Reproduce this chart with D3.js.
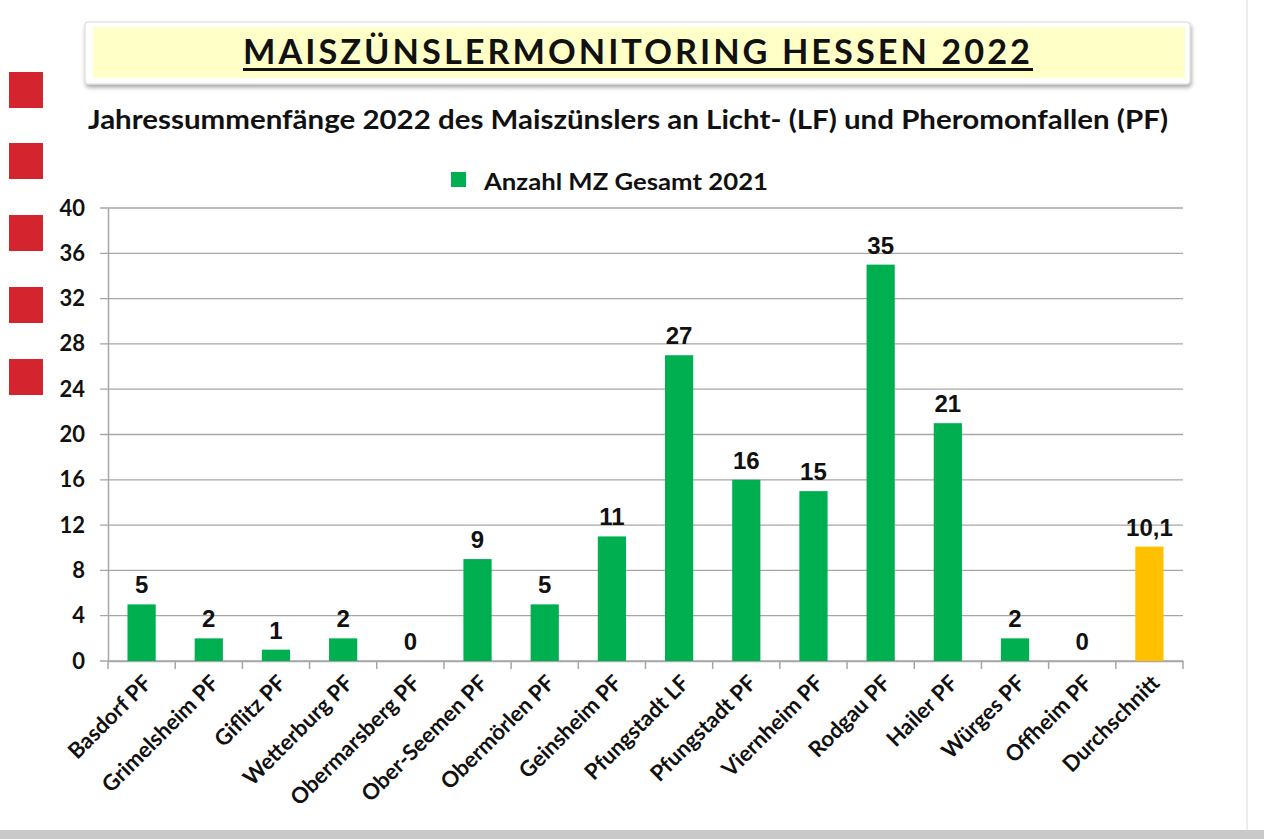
<!DOCTYPE html>
<html>
<head>
<meta charset="utf-8">
<script src="https://cdn.jsdelivr.net/npm/d3@7"></script>
<style>
  body { margin: 0; background: #fff; }
  svg { display: block; }
</style>
</head>
<body>
<svg id="chart" width="1264" height="839"></svg>
<script>
// DATA
var categories = ["Basdorf PF", "Grimelsheim PF", "Giflitz PF", "Wetterburg PF", "Obermarsberg PF",
  "Ober-Seemen PF", "Obermörlen PF", "Geinsheim PF", "Pfungstadt LF", "Pfungstadt PF",
  "Viernheim PF", "Rodgau PF", "Hailer PF", "Würges PF", "Offheim PF", "Durchschnitt"];
var counts = [5, 2, 1, 2, 0, 9, 5, 11, 27, 16, 15, 35, 21, 2, 0, 10.1];
var yTicks = [0, 4, 8, 12, 16, 20, 24, 28, 32, 36, 40];
var titleText = "MAISZÜNSLERMONITORING HESSEN 2022";
var subtitleText = "Jahressummenfänge 2022 des Maiszünslers an Licht- (LF) und Pheromonfallen (PF)";
var legendText = "Anzahl MZ Gesamt 2021";

var GREEN = "#00b050", GOLD = "#ffc000";
var labelFont = "Lato, 'Open Sans', sans-serif";
var numFont = "'Liberation Sans', Arial, sans-serif";

var svg = d3.select("#chart");

// page frame: right edge line and bottom band
svg.append("rect").attr("x", 1246).attr("y", 0).attr("width", 2).attr("height", 830).attr("fill", "#ececec");
svg.append("rect").attr("x", 0).attr("y", 830).attr("width", 1264).attr("height", 9).attr("fill", "#c9c9c9");

// red squares on the left
svg.append("g").selectAll("rect").data([72, 143, 215, 287, 359]).enter().append("rect")
  .attr("x", 9).attr("y", function(d){ return d; })
  .attr("width", 34).attr("height", 36).attr("fill", "#d4252f");

// TITLE BOX
var defs = svg.append("defs");
var f = defs.append("filter").attr("id", "shadow").attr("x", "-5%").attr("y", "-20%").attr("width", "110%").attr("height", "150%");
f.append("feDropShadow").attr("dx", 1).attr("dy", 3).attr("stdDeviation", 2).attr("flood-color", "#000").attr("flood-opacity", 0.35);

svg.append("rect").attr("x", 85).attr("y", 22).attr("width", 1105).attr("height", 62)
  .attr("rx", 3).attr("fill", "#fff").attr("stroke", "#d8d8d8").attr("filter", "url(#shadow)");
svg.append("rect").attr("x", 93).attr("y", 27).attr("width", 1092).attr("height", 51).attr("fill", "#ffffc8");

svg.append("text").attr("x", 243).attr("y", 64)
  .attr("textLength", 790).attr("lengthAdjust", "spacingAndGlyphs")
  .style("font-family", labelFont).style("font-weight", "bold").style("font-size", "34px")
  .style("letter-spacing", "3px").attr("fill", "#111").text(titleText);
svg.append("rect").attr("x", 243).attr("y", 68).attr("width", 790).attr("height", 3).attr("fill", "#111");

svg.append("text").attr("x", 88).attr("y", 129)
  .attr("textLength", 1080).attr("lengthAdjust", "spacingAndGlyphs")
  .style("font-family", labelFont).style("font-weight", "bold").style("font-size", "27px")
  .attr("fill", "#111").text(subtitleText);

// LEGEND
svg.append("rect").attr("x", 451).attr("y", 172).attr("width", 15).attr("height", 15).attr("fill", GREEN);
svg.append("text").attr("x", 484).attr("y", 190)
  .attr("textLength", 284).attr("lengthAdjust", "spacingAndGlyphs")
  .style("font-family", labelFont).style("font-weight", "bold").style("font-size", "22px")
  .attr("fill", "#111").text(legendText);

// SCALES
var plotLeft = 108, plotRight = 1183, plotTop = 208, plotBottom = 661;
var x = d3.scaleBand().domain(categories).range([plotLeft, plotRight]).paddingInner(0.58).paddingOuter(0.29);
var xb = d3.scaleBand().domain(categories).range([plotLeft, plotRight]);
var y = d3.scaleLinear().domain([0, 40]).range([plotBottom, plotTop]);

// gridlines
svg.append("g").selectAll("line").data(yTicks).enter().append("line")
  .attr("x1", plotLeft - 8).attr("x2", plotRight)
  .attr("y1", function(d){ return y(d); }).attr("y2", function(d){ return y(d); })
  .attr("stroke", "#a6a6a6").attr("stroke-width", 1.3);

// y axis
var yAxis = svg.append("g").attr("transform", "translate(" + plotLeft + ",0)")
  .call(d3.axisLeft(y).tickValues(yTicks).tickSize(0).tickPadding(23));
yAxis.select(".domain").attr("stroke", "#a6a6a6").attr("stroke-width", 1.5);
yAxis.selectAll("text").style("font-family", labelFont).style("font-weight", "bold")
  .style("font-size", "22px").attr("fill", "#111");

// x axis
var xAxis = svg.append("g").attr("transform", "translate(0," + plotBottom + ")")
  .call(d3.axisBottom(xb).tickSize(0).tickFormat(""));
xAxis.select(".domain").attr("stroke", "#a6a6a6").attr("stroke-width", 1.5);
var bounds = categories.map(function(c){ return xb(c); }).concat([plotRight]);
svg.append("g").selectAll("line").data(bounds).enter().append("line")
  .attr("x1", function(d){ return d; }).attr("x2", function(d){ return d; })
  .attr("y1", plotBottom).attr("y2", plotBottom + 8)
  .attr("stroke", "#a6a6a6").attr("stroke-width", 1.5);

svg.append("g").selectAll("text").data(categories).enter().append("text")
  .attr("transform", function(d){
    var cx = xb(d) + xb.bandwidth() / 2 + 6;
    return "translate(" + cx + "," + (plotBottom + 18) + ") rotate(-45)";
  })
  .attr("text-anchor", "end").attr("dy", "0.35em")
  .style("font-family", labelFont).style("font-weight", "bold").style("font-size", "22px")
  .attr("fill", "#111").text(function(d){ return d; });

// BARS
svg.append("g").selectAll("rect").data(counts).enter().append("rect")
  .attr("x", function(d, i){ return x(categories[i]); })
  .attr("y", function(d){ return y(d); })
  .attr("width", x.bandwidth())
  .attr("height", function(d){ return plotBottom - y(d); })
  .attr("fill", function(d, i){ return categories[i] === "Durchschnitt" ? GOLD : GREEN; });

// value labels
svg.append("g").selectAll("text").data(counts).enter().append("text")
  .attr("x", function(d, i){ return x(categories[i]) + x.bandwidth() / 2; })
  .attr("y", function(d){ return y(d) - 11; })
  .attr("text-anchor", "middle")
  .style("font-family", numFont).style("font-weight", "bold").style("font-size", "24px")
  .attr("fill", "#111")
  .text(function(d){ return String(d).replace(".", ","); });
</script>
</body>
</html>
